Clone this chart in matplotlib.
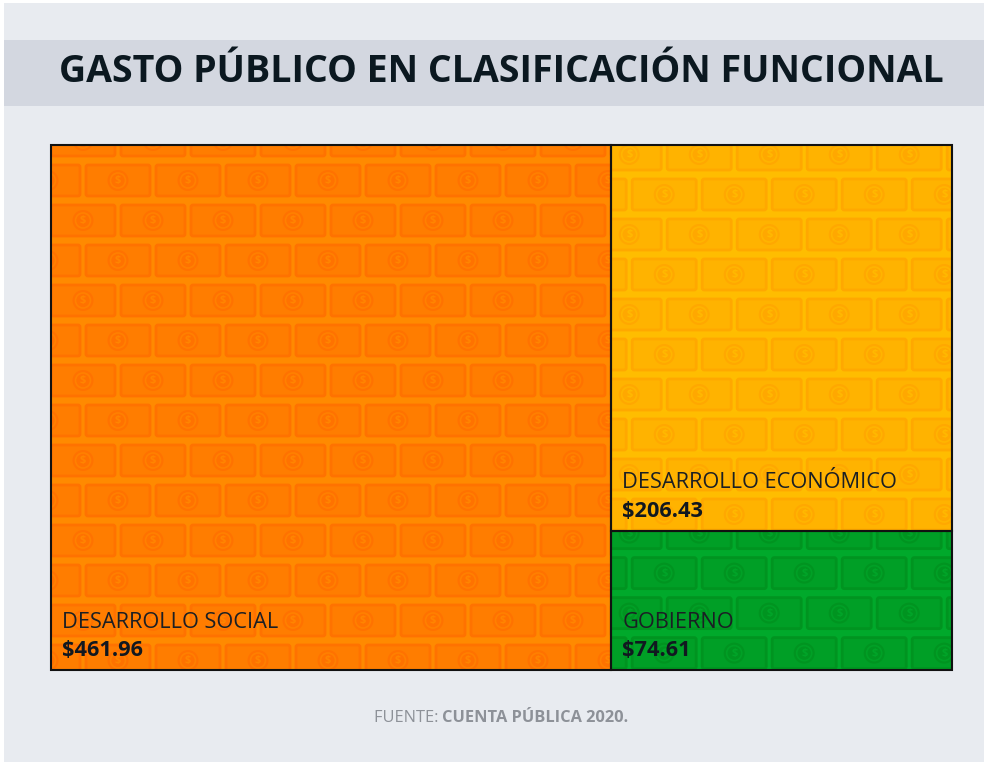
import matplotlib.pyplot as plt
from matplotlib.patches import Rectangle, Circle, FancyBboxPatch

plt.rcParams['font.family'] = ['Open Sans', 'DejaVu Sans']

# datos (miles de millones de pesos)
categorias = ['DESARROLLO SOCIAL', 'DESARROLLO ECONÓMICO', 'GOBIERNO']
valores = [461.96, 206.43, 74.61]
etiquetas = ['$461.96', '$206.43', '$74.61']

# colores: fondo, billete, borde/moneda
colores = [
    ('#ff8a00', '#ff7d00', '#ff7200'),
    ('#ffbd00', '#ffb300', '#ffa800'),
    ('#00a92b', '#009f26', '#009420'),
]

fig = plt.figure(figsize=(9.84, 7.62), dpi=100, facecolor='white')
ax = fig.add_axes([0, 0, 1, 1])
ax.set_xlim(0, 984)
ax.set_ylim(762, 0)
ax.axis('off')

# fondo general y banda del titulo
ax.add_patch(Rectangle((4, 3), 980, 759, facecolor='#e8ebf0', edgecolor='none'))
ax.add_patch(Rectangle((4, 40), 980, 66, facecolor='#d3d7e0', edgecolor='none'))
ax.text(501, 72, 'GASTO PÚBLICO EN CLASIFICACIÓN FUNCIONAL', fontsize=27,
        fontweight='bold', color='#0b1820', ha='center', va='center')

# treemap: una columna a la izquierda, el resto apilado a la derecha
x0, y0, W, H = 51, 145, 901, 525
total = sum(valores)
w0 = W * valores[0] / total
resto = valores[1] + valores[2]
h1 = H * valores[1] / resto
rects = [
    (x0, y0, w0, H),
    (x0 + w0, y0, W - w0, h1),
    (x0 + w0, y0 + h1, W - w0, H - h1),
]
fases = [(0, -20), (-14, -6), (-14, -13)]


def billetes(rx, ry, rw, rh, col, fase):
    base, bill, dark = col
    fondo = Rectangle((rx, ry), rw, rh, facecolor=base, edgecolor='none', zorder=1)
    ax.add_patch(fondo)
    bw, bh, dx, dy = 64, 31, 70, 40
    fila = 0
    y = ry + fase[1]
    while y < ry + rh + dy:
        off = fase[0] + (dx / 2 if fila % 2 else 0)
        x = rx + off - dx
        while x < rx + rw + dx:
            cx, cy = x + bw / 2, y + bh / 2
            arts = [
                ax.add_patch(FancyBboxPatch((x, y), bw, bh,
                                            boxstyle='round,pad=0,rounding_size=2',
                                            facecolor=bill, edgecolor=dark, lw=2, zorder=2)),
                ax.add_patch(Circle((cx, cy), 10.5, facecolor=dark, edgecolor='none',
                                    zorder=3)),
                ax.add_patch(Circle((cx, cy), 7.5, facecolor='none', edgecolor=base,
                                    lw=1.2, alpha=0.6, zorder=3)),
                ax.text(cx, cy + 0.5, '$', fontsize=8, fontweight='bold', color=base,
                        ha='center', va='center', alpha=0.8, zorder=4),
            ]
            for a in arts:
                a.set_clip_on(True)
                a.set_clip_path(fondo)
            x += dx
        y += dy
        fila += 1
    ax.add_patch(Rectangle((rx, ry), rw, rh, facecolor='none', edgecolor='#111111',
                           lw=1.5, zorder=6))


for (rx, ry, rw, rh), col, fase, cat, lab in zip(rects, colores, fases, categorias, etiquetas):
    billetes(rx, ry, rw, rh, col, fase)
    ax.text(rx + 11, ry + rh - 48, cat, fontsize=15.7, color='#1b1f24',
            ha='left', va='center', zorder=7)
    ax.text(rx + 11, ry + rh - 14, lab, fontsize=15.7, fontweight='bold', color='#111820',
            ha='left', va='baseline', zorder=7)

# fuente
fig.canvas.draw()
r = fig.canvas.get_renderer()
t1 = ax.text(0, 718, 'FUENTE: ', fontsize=11.8, color='#8d9198', ha='left', va='center')
t2 = ax.text(0, 718, 'CUENTA PÚBLICA 2020.', fontsize=11.8, fontweight='bold',
             color='#8d9198', ha='left', va='center')
w1 = t1.get_window_extent(r).width
w2 = t2.get_window_extent(r).width
inicio = 501 - (w1 + w2) / 2
t1.set_x(inicio)
t2.set_x(inicio + w1)

fig.savefig('out.png', dpi=100, facecolor='white')
